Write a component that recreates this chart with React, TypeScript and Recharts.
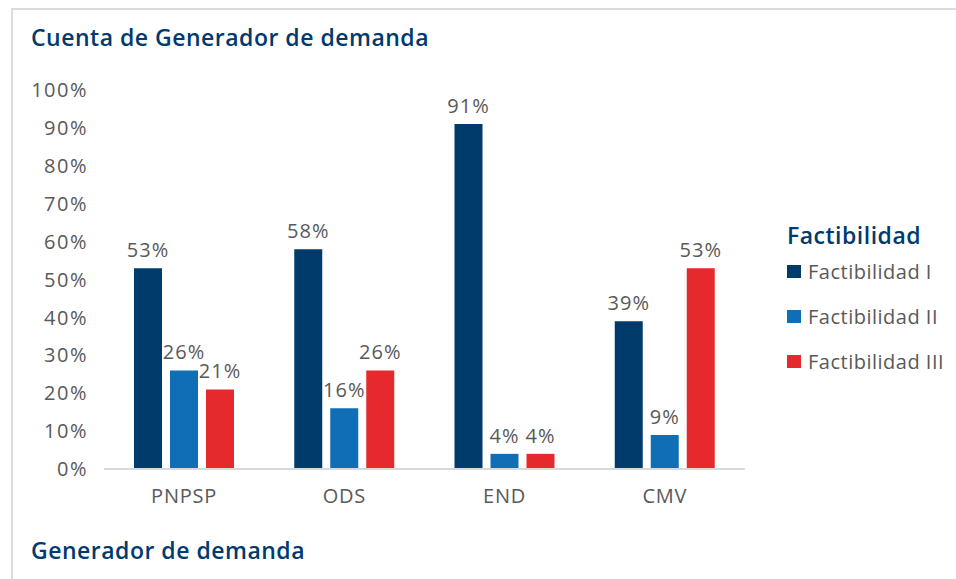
import React from 'react';
import { BarChart, Bar, XAxis, YAxis, Legend, LabelList } from 'recharts';

const categories = ['PNPSP', 'ODS', 'END', 'CMV'];
const factibilidadI = [53, 58, 91, 39];
const factibilidadII = [26, 16, 4, 9];
const factibilidadIII = [21, 26, 4, 53];
const yTicks = [0, 10, 20, 30, 40, 50, 60, 70, 80, 90, 100];
const seriesNames = ['Factibilidad I', 'Factibilidad II', 'Factibilidad III'];
const seriesColors = ['#003B6C', '#0F6EB5', '#E5292D'];

const data = categories.map((c, i) => ({
  name: c,
  f1: factibilidadI[i],
  f2: factibilidadII[i],
  f3: factibilidadIII[i],
}));

const FONT = '"Open Sans", sans-serif';
const TEXT = '#595959';
const TITLE = '#003A6E';

const pct = (v: any) => `${v}%`;

const LegendContent = () => (
  <div style={{ fontFamily: FONT }}>
    <div style={{ color: TITLE, fontSize: 23, fontWeight: 600, letterSpacing: 0.5, lineHeight: '30px', marginBottom: -1 }}>Factibilidad</div>
    {seriesNames.map((n, i) => (
      <div key={n} style={{ display: 'flex', alignItems: 'center', height: 45 }}>
        <span style={{ width: 14, height: 13, background: seriesColors[i], display: 'inline-block', marginRight: 7 }} />
        <span style={{ color: TEXT, fontSize: 20, letterSpacing: 0.5 }}>{n}</span>
      </div>
    ))}
  </div>
);

export default function App() {
  const keys = ['f1', 'f2', 'f3'];
  return (
    <div style={{ position: 'absolute', left: 0, top: 0, width: 956, height: 579, background: '#fff', overflow: 'hidden' }}>
      <div style={{ position: 'absolute', left: 11, top: 8, width: 960, height: 600, borderLeft: '2px solid #dcdcdc', borderTop: '2px solid #dcdcdc' }} />
      <div style={{ position: 'absolute', left: 31, top: 22, fontFamily: FONT, fontSize: 23, fontWeight: 600, letterSpacing: 0.5, color: TITLE, lineHeight: '30px' }}>
        Cuenta de Generador de demanda
      </div>
      <div style={{ position: 'absolute', left: 31, top: 535, fontFamily: FONT, fontSize: 23, fontWeight: 600, letterSpacing: 0.5, color: TITLE, lineHeight: '30px' }}>
        Generador de demanda
      </div>
      <div style={{ position: 'absolute', left: 0, top: 0 }}>
        <BarChart
          width={956}
          height={579}
          data={data}
          margin={{ top: 90, right: 211, bottom: 80, left: 0 }}
          barSize={28}
          barGap={8}
        >
          <XAxis
            dataKey="name"
            height={30}
            axisLine={{ stroke: '#d9d9d9', strokeWidth: 2 }}
            tickLine={false}
            tickSize={0}
            tickMargin={20}
            tick={{ fill: TEXT, fontSize: 20, fontFamily: FONT, letterSpacing: 0.8 }}
          />
          <YAxis
            width={104}
            domain={[0, 100]}
            ticks={yTicks}
            interval={0}
            axisLine={false}
            tickLine={false}
            tickSize={0}
            tickMargin={16}
            tickFormatter={pct}
            tick={{ fill: TEXT, fontSize: 20, fontFamily: FONT, letterSpacing: 1.5 }}
          />
          <Legend
            layout="horizontal"
            verticalAlign="middle"
            align="center"
            content={<LegendContent />}
            wrapperStyle={{ position: 'absolute', left: 787, top: 220, width: 170, height: 160 }}
          />
          {keys.map((k, i) => (
            <Bar key={k} dataKey={k} name={seriesNames[i]} fill={seriesColors[i]} isAnimationActive={false}>
              <LabelList dataKey={k} position="top" offset={11} formatter={pct} style={{ fill: TEXT, fontSize: 20, fontFamily: FONT, letterSpacing: 1 }} />
            </Bar>
          ))}
        </BarChart>
      </div>
    </div>
  );
}
